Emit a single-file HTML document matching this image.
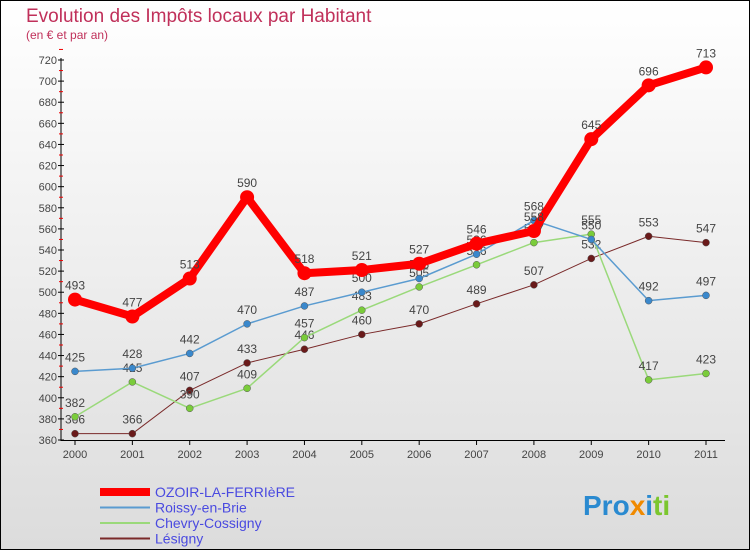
<!DOCTYPE html>
<html><head><meta charset="utf-8"><style>
body{margin:0}
#c{width:750px;height:550px;position:relative;overflow:hidden}
</style></head><body>
<div id="c">
<svg id="s" width="750" height="550" xmlns="http://www.w3.org/2000/svg" font-family="Liberation Sans, sans-serif">
<defs><linearGradient id="bg" x1="0" y1="0" x2="0" y2="1"><stop offset="0" stop-color="#ffffff"/><stop offset="1" stop-color="#dcdcdc"/></linearGradient></defs>
<rect x="0.5" y="0.5" width="749" height="549" fill="url(#bg)" stroke="#000"/>
<text x="26" y="22" font-size="19" fill="#c0305a">Evolution des Impôts locaux par Habitant</text>
<text x="26" y="39" font-size="12" fill="#c0305a">(en € et par an)</text>
<g id="axes"></g>
<g id="series"></g>
<g id="legend"></g>
<g font-size="28" font-weight="bold">
<text x="583" y="515"><tspan fill="#2a8ad0">Pro</tspan><tspan fill="#f08a00">x</tspan><tspan fill="#2a8ad0">i</tspan><tspan fill="#7bc62e">ti</tspan></text>
</g>
</svg>
</div>
<script>
const years=[2000,2001,2002,2003,2004,2005,2006,2007,2008,2009,2010,2011];
const ozoir=[493,477,513,590,518,521,527,546,558,645,696,713];
const roissy=[425,428,442,470,487,500,513,536,568,550,492,497];
const chevry=[382,415,390,409,457,483,505,526,547,555,417,423];
const lesigny=[366,366,407,433,446,460,470,489,507,532,553,547];
const yTicks=[360,380,400,420,440,460,480,500,520,540,560,580,600,620,640,660,680,700,720];
const NS="http://www.w3.org/2000/svg";
function X(i){return 75+i*(706-75)/11;}
function Y(v){return 440-(v-360)*(380/360);}
function mk(t,a,p){const e=document.createElementNS(NS,t);for(const k in a)e.setAttribute(k,a[k]);p.appendChild(e);return e;}
const ax=document.getElementById('axes');
const yl=mk('line',{x1:61,y1:Y(720)-2,x2:61,y2:441,stroke:'#000'},ax);


const xl=mk('line',{x1:61,y1:440.5,x2:725,y2:440.5,stroke:'#000'},ax);


yTicks.forEach(v=>{
 mk('line',{x1:58,y1:Y(v),x2:64,y2:Y(v),stroke:'#000'},ax);
 mk('line',{x1:59,y1:Y(v+10),x2:63,y2:Y(v+10),stroke:'#e00'},ax);
 const t=mk('text',{x:57,y:Y(v)+4,'font-size':11,fill:'#444','text-anchor':'end'},ax);
 t.textContent=v;
 
 
});
years.forEach((y,i)=>{
 mk('line',{x1:X(i),y1:440,x2:X(i),y2:445,stroke:'#000'},ax);
 const t=mk('text',{x:X(i),y:458,'font-size':11,fill:'#444','text-anchor':'middle'},ax);
 t.textContent=y;
 
 
});
const sg=document.getElementById('series');
function draw(vals,color,w,r,dot,name){
 const g=mk('g',{},sg);
 
 
 mk('polyline',{points:vals.map((v,i)=>X(i)+','+Y(v)).join(' '),fill:'none',stroke:color,'stroke-width':w,'stroke-linejoin':'round'},g);
 vals.forEach((v,i)=>{
  const c=mk('circle',{cx:X(i),cy:Y(v),r:r,fill:dot,stroke:'#555','stroke-width':r>5?0:0.5},g);
  
  
  const t=mk('text',{x:X(i),y:Y(v)-10,'font-size':12,fill:'#444','text-anchor':'middle'},g);
  t.textContent=v;
  
  
 });
}
draw(lesigny,'#7a2a2a',1,3.5,'#6a1a1a','lesigny');
draw(chevry,'#9ad97a',1.5,3.5,'#7acc3a','chevry');
draw(roissy,'#5a9bd0',1.5,3.5,'#3a88cc','roissy');
draw(ozoir,'#ff0000',8,7,'#ff0000','ozoir');
const lg=document.getElementById('legend');
const items=[['OZOIR-LA-FERRIèRE','#ff0000',8],['Roissy-en-Brie','#5a9bd0',2],['Chevry-Cossigny','#9ad97a',2],['Lésigny','#7a2a2a',2]];
items.forEach((it,k)=>{
 const y=492+k*15.5;
 const g=mk('g',{},lg);
 
 
 mk('line',{x1:100,y1:y,x2:150,y2:y,stroke:it[1],'stroke-width':it[2]},g);
 const t=mk('text',{x:155,y:y+5,'font-size':14,fill:'#4a4ae0'},g);
 t.textContent=it[0];
});
</script>
</body></html>
